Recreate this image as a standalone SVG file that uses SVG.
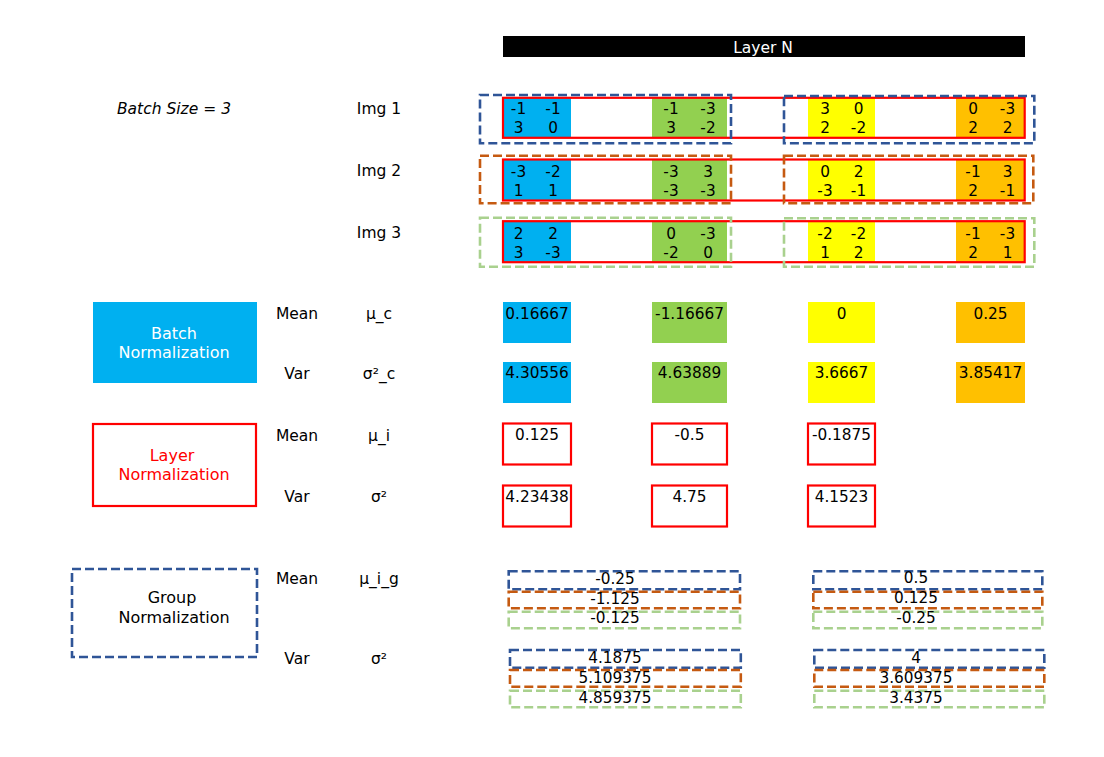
<svg xmlns="http://www.w3.org/2000/svg" width="1104" height="757" viewBox="0 0 1104 757">
<style>
text{font-family:"DejaVu Sans","Liberation Sans",sans-serif;font-size:15.3px;fill:#000;text-anchor:middle}
.lbl{font-size:15.5px}
.box{font-size:16px}
.cb{fill:#00B0F0}.cg{fill:#92D050}.cy{fill:#FFFF00}.co{fill:#FFC000}
.red{fill:none;stroke:#FF0000;stroke-width:2.2}
.db{fill:none;stroke:#2F5597;stroke-width:2.6;stroke-dasharray:9 4}
.do{fill:none;stroke:#C55A11;stroke-width:2.6;stroke-dasharray:9 4}
.dg{fill:none;stroke:#A9D18E;stroke-width:2.6;stroke-dasharray:9 4}
</style>
<rect width="1104" height="757" fill="#fff"/>
<g id="header">
<rect x="503" y="36" width="522" height="21" fill="#000"/>
<text x="763" y="52.5" class="lbl" style="fill:#fff">Layer N</text>
</g>
<g id="batch-size"><text x="174" y="114" class="lbl" font-style="italic">Batch Size = 3</text></g>
<g id="img-labels">
<text x="379" y="114" class="lbl">Img 1</text>
<text x="379" y="176" class="lbl">Img 2</text>
<text x="379" y="238" class="lbl">Img 3</text>
</g>
<g id="img1">
<rect class="cb" x="503" y="97.8" width="68" height="40"/>
<rect class="cg" x="652" y="97.8" width="75" height="40"/>
<rect class="cy" x="808" y="97.8" width="67" height="40"/>
<rect class="co" x="956" y="97.8" width="69" height="40"/>
<text x="518.5" y="114">-1</text><text x="553" y="114">-1</text><text x="518.5" y="133">3</text><text x="553" y="133">0</text>
<text x="671" y="114">-1</text><text x="708" y="114">-3</text><text x="671" y="133">3</text><text x="708" y="133">-2</text>
<text x="825" y="114">3</text><text x="858.5" y="114">0</text><text x="825" y="133">2</text><text x="858.5" y="133">-2</text>
<text x="973" y="114">0</text><text x="1007.5" y="114">-3</text><text x="973" y="133">2</text><text x="1007.5" y="133">2</text>
<rect class="red" x="503" y="97.8" width="521.7" height="40"/>
<rect class="db" x="480" y="95" width="251" height="48.3"/>
<rect class="db" x="784" y="96" width="250.3" height="47.3"/>
</g>
<g id="img2">
<rect class="cb" x="503" y="159.5" width="68" height="41"/>
<rect class="cg" x="652" y="159.5" width="75" height="41"/>
<rect class="cy" x="808" y="159.5" width="67" height="41"/>
<rect class="co" x="956" y="159.5" width="69" height="41"/>
<text x="518.5" y="177">-3</text><text x="553" y="177">-2</text><text x="518.5" y="196">1</text><text x="553" y="196">1</text>
<text x="671" y="177">-3</text><text x="708" y="177">3</text><text x="671" y="196">-3</text><text x="708" y="196">-3</text>
<text x="825" y="177">0</text><text x="858.5" y="177">2</text><text x="825" y="196">-3</text><text x="858.5" y="196">-1</text>
<text x="973" y="177">-1</text><text x="1007.5" y="177">3</text><text x="973" y="196">2</text><text x="1007.5" y="196">-1</text>
<rect class="red" x="503" y="159.5" width="521.7" height="41"/>
<rect class="do" x="480" y="155.7" width="251" height="47.6"/>
<rect class="do" x="784" y="155.7" width="249.3" height="47.6"/>
</g>
<g id="img3">
<rect class="cb" x="503" y="221.2" width="68" height="41"/>
<rect class="cg" x="652" y="221.2" width="75" height="41"/>
<rect class="cy" x="808" y="221.2" width="67" height="41"/>
<rect class="co" x="956" y="221.2" width="69" height="41"/>
<text x="518.5" y="239">2</text><text x="553" y="239">2</text><text x="518.5" y="258">3</text><text x="553" y="258">-3</text>
<text x="671" y="239">0</text><text x="708" y="239">-3</text><text x="671" y="258">-2</text><text x="708" y="258">0</text>
<text x="825" y="239">-2</text><text x="858.5" y="239">-2</text><text x="825" y="258">1</text><text x="858.5" y="258">2</text>
<text x="973" y="239">-1</text><text x="1007.5" y="239">-3</text><text x="973" y="258">2</text><text x="1007.5" y="258">1</text>
<rect class="red" x="503" y="221.2" width="521.7" height="41"/>
<rect class="dg" x="480" y="217.7" width="251" height="49"/>
<rect class="dg" x="784" y="218.3" width="250.3" height="48.4"/>
</g>
<g id="batch-norm">
<rect x="93" y="302" width="164" height="81" fill="#00B0F0"/>
<text x="174" y="339" class="box" style="fill:#fff">Batch</text>
<text x="174" y="358" class="box" style="fill:#fff">Normalization</text>
</g>
<g id="layer-norm">
<rect class="red" x="93" y="424" width="163" height="82"/>
<text x="172" y="461" class="box" style="fill:#FF0000">Layer</text>
<text x="174" y="480" class="box" style="fill:#FF0000">Normalization</text>
</g>
<g id="group-norm">
<rect class="db" x="72" y="569" width="185" height="88"/>
<text x="172" y="603" class="box">Group</text>
<text x="174" y="623" class="box">Normalization</text>
</g>
<g id="stat-labels">
<text x="297" y="319" class="lbl">Mean</text><text x="379" y="319" class="lbl">μ_c</text>
<text x="297" y="379" class="lbl">Var</text><text x="379" y="379" class="lbl">σ²_c</text>
<text x="297" y="441" class="lbl">Mean</text><text x="379" y="441" class="lbl">μ_i</text>
<text x="297" y="502" class="lbl">Var</text><text x="379" y="502" class="lbl">σ²</text>
<text x="297" y="584" class="lbl">Mean</text><text x="379" y="584" class="lbl">μ_i_g</text>
<text x="297" y="664" class="lbl">Var</text><text x="379" y="664" class="lbl">σ²</text>
</g>
<g id="bn-stats">
<rect class="cb" x="503" y="302" width="68" height="41"/>
<rect class="cg" x="652" y="302" width="75" height="41"/>
<rect class="cy" x="808" y="302" width="67" height="41"/>
<rect class="co" x="956" y="302" width="69" height="41"/>
<text x="537" y="319">0.16667</text><text x="689.5" y="319">-1.16667</text><text x="841.5" y="319">0</text><text x="990.5" y="319">0.25</text>
<rect class="cb" x="503" y="362" width="68" height="41"/>
<rect class="cg" x="652" y="362" width="75" height="41"/>
<rect class="cy" x="808" y="362" width="67" height="41"/>
<rect class="co" x="956" y="362" width="69" height="41"/>
<text x="537" y="378">4.30556</text><text x="689.5" y="378">4.63889</text><text x="841.5" y="378">3.6667</text><text x="990.5" y="378">3.85417</text>
</g>
<g id="ln-stats">
<rect class="red" x="503" y="423.5" width="68" height="41"/>
<rect class="red" x="652" y="423.5" width="75" height="41"/>
<rect class="red" x="808" y="423.5" width="67" height="41"/>
<text x="537" y="440">0.125</text><text x="689.5" y="440">-0.5</text><text x="841.5" y="440">-0.1875</text>
<rect class="red" x="503" y="485.5" width="68" height="41"/>
<rect class="red" x="652" y="485.5" width="75" height="41"/>
<rect class="red" x="808" y="485.5" width="67" height="41"/>
<text x="537" y="502">4.23438</text><text x="689.5" y="502">4.75</text><text x="841.5" y="502">4.1523</text>
</g>
<g id="gn-stats-left">
<rect class="db" x="508.7" y="571.3" width="231.3" height="17.9"/>
<rect class="do" x="508.7" y="591.7" width="231.3" height="16.6"/>
<rect class="dg" x="508.7" y="611.7" width="231.3" height="16.6"/>
<text x="615" y="584.3">-0.25</text><text x="615" y="604.3">-1.125</text><text x="615" y="623.3">-0.125</text>
<rect class="db" x="510" y="650" width="230.8" height="17.7"/>
<rect class="do" x="510" y="670" width="230.8" height="16.7"/>
<rect class="dg" x="510" y="690.7" width="230.8" height="16.6"/>
<text x="615" y="663.3">4.1875</text><text x="615" y="683.3">5.109375</text><text x="615" y="702.7">4.859375</text>
</g>
<g id="gn-stats-right">
<rect class="db" x="813.3" y="571.3" width="229" height="17.9"/>
<rect class="do" x="813.3" y="591.7" width="229" height="16.6"/>
<rect class="dg" x="813.3" y="611.7" width="229" height="16.6"/>
<text x="916" y="583.3">0.5</text><text x="916" y="603.3">0.125</text><text x="916" y="623.3">-0.25</text>
<rect class="db" x="814.3" y="650" width="230" height="17.7"/>
<rect class="do" x="814.3" y="670" width="230" height="16.7"/>
<rect class="dg" x="814.3" y="690.7" width="230" height="16.6"/>
<text x="916" y="663.3">4</text><text x="916" y="683.3">3.609375</text><text x="916" y="702.7">3.4375</text>
</g>
<g id="connectors"/>
</svg>
